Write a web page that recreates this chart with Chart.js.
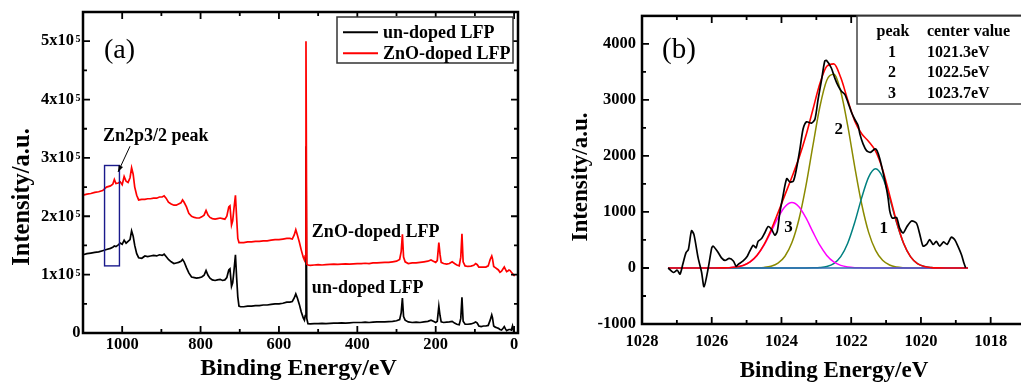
<!DOCTYPE html>
<html><head><meta charset="utf-8">
<script src="https://cdn.jsdelivr.net/npm/chart.js@4.4.1/dist/chart.umd.min.js"></script>
<style>
html,body{margin:0;padding:0;background:#fff;overflow:hidden;width:1021px;height:385px;}
#wa{position:absolute;left:0;top:0;width:530px;height:385px;overflow:hidden;}
#wb{position:absolute;left:530px;top:0;width:491px;height:385px;overflow:hidden;}
canvas{display:block}
</style></head><body>
<div id="wa"><canvas id="ca" width="530" height="385"></canvas></div>
<div id="wb"><canvas id="cb" width="510" height="385"></canvas></div>
<script>
// ---------- DATA: panel (a) survey spectra (intensity in units of 1e5) ----------
const seriesNames = ['un-doped LFP', 'ZnO-doped LFP'];
const surveyE = [
 1100,1090,1080,1070,1060,1050,1040,1030,1024,1020,
 1016,1010,1005,1000,995,990,985,980,976,972,
 968,963,958,950,942,935,928,920,912,905,
 898,893,888,882,875,868,862,856,850,846,
 842,836,830,823,816,810,803,797,791,786,
 781,776,770,763,757,750,744,738,733,728,
 725,721,718,715,711,708,705,702,698,690,
 680,670,660,650,640,630,620,610,600,590,
 580,572,566,561,557,553,548,543,538,535,
 533,531,529,526,520,510,500,490,480,470,
 460,450,440,430,420,410,400,390,380,370,
 360,350,340,330,320,310,300,292,288,285,
 282,278,270,260,250,240,230,220,212,206,
 200,196,192,189,186,180,172,165,158,152,
 146,140,136,133,130,125,118,110,103,98,
 94,90,84,78,72,66,61,57,55,52,
 48,44,40,36,32,28,25,22,19,16,
 13,10,7,4,1,-2];
const undoped = [
 1.34,1.36,1.37,1.38,1.39,1.41,1.43,1.45,1.47,1.49,
 1.48,1.51,1.54,1.52,1.59,1.54,1.57,1.60,1.75,1.66,
 1.50,1.36,1.29,1.28,1.32,1.31,1.32,1.33,1.32,1.34,
 1.33,1.35,1.31,1.26,1.22,1.19,1.20,1.21,1.23,1.26,
 1.22,1.12,1.03,0.96,0.95,0.94,0.95,0.96,0.99,1.07,
 0.99,0.94,0.91,0.90,0.91,0.92,0.90,0.91,0.95,1.08,
 1.10,0.80,0.86,1.05,1.34,0.95,0.62,0.46,0.45,0.45,
 0.46,0.46,0.47,0.47,0.48,0.48,0.49,0.50,0.50,0.51,
 0.53,0.53,0.54,0.60,0.67,0.60,0.49,0.36,0.26,0.22,
 0.30,3.20,0.25,0.16,0.155,0.16,0.16,0.165,0.16,0.165,
 0.17,0.17,0.175,0.17,0.175,0.18,0.18,0.18,0.185,0.18,
 0.185,0.19,0.19,0.19,0.195,0.20,0.21,0.23,0.35,0.60,
 0.28,0.22,0.19,0.18,0.185,0.18,0.19,0.20,0.22,0.20,
 0.18,0.20,0.46,0.30,0.19,0.18,0.185,0.19,0.20,0.17,
 0.15,0.14,0.25,0.61,0.20,0.15,0.15,0.155,0.17,0.19,
 0.17,0.12,0.11,0.12,0.12,0.13,0.22,0.31,0.26,0.12,
 0.10,0.09,0.08,0.06,0.05,0.08,0.11,0.07,0.04,0.05,
 0.06,0.06,0.05,0.12,0.02,0.03];
const znoDoped = [
 2.36,2.38,2.39,2.41,2.42,2.44,2.50,2.52,2.55,2.63,
 2.56,2.57,2.59,2.54,2.68,2.60,2.58,2.66,2.83,2.72,
 2.50,2.36,2.28,2.29,2.29,2.30,2.30,2.31,2.31,2.33,
 2.33,2.35,2.31,2.24,2.21,2.19,2.19,2.21,2.23,2.28,
 2.24,2.16,2.05,2.00,1.98,1.97,1.97,1.99,2.02,2.10,
 2.02,1.98,1.96,1.95,1.96,1.97,1.96,1.95,2.00,2.16,
 2.18,1.85,1.92,2.12,2.36,1.98,1.62,1.55,1.55,1.55,
 1.56,1.56,1.57,1.57,1.58,1.58,1.59,1.60,1.60,1.61,
 1.62,1.62,1.61,1.68,1.77,1.68,1.56,1.42,1.30,1.25,
 1.32,5.00,1.18,1.165,1.16,1.165,1.17,1.165,1.17,1.175,
 1.18,1.175,1.18,1.185,1.18,1.185,1.19,1.19,1.195,1.19,
 1.20,1.20,1.205,1.21,1.21,1.22,1.23,1.26,1.40,1.69,
 1.30,1.22,1.19,1.20,1.20,1.21,1.22,1.23,1.25,1.23,
 1.21,1.24,1.55,1.35,1.21,1.19,1.18,1.19,1.22,1.19,
 1.165,1.15,1.30,1.70,1.22,1.15,1.14,1.145,1.16,1.19,
 1.17,1.13,1.13,1.13,1.13,1.15,1.26,1.32,1.27,1.14,
 1.12,1.10,1.08,1.04,1.06,1.10,1.13,1.09,1.05,1.06,
 1.08,1.07,1.04,1.02,0.99,0.98];
const xTicksA = [1000, 800, 600, 400, 200, 0];
const xMinorA = [900, 700, 500, 300, 100];
const yTicksA = [0, 1, 2, 3, 4, 5];
const yMinorA = [0.5, 1.5, 2.5, 3.5, 4.5];
const yExpA = '5';

// ---------- DATA: panel (b) Zn 2p3/2 region ----------
const rawE = [
 1027.25,1027.10,1026.99,1026.91,1026.83,1026.74,1026.67,1026.58,1026.51,1026.39,
 1026.29,1026.22,1026.10,1026.00,1025.96,1025.84,1025.72,1025.62,1025.50,1025.38,
 1025.30,1025.24,1025.10,1024.98,1024.91,1024.81,1024.73,1024.67,1024.57,1024.48,
 1024.38,1024.28,1024.19,1024.12,1024.05,1023.97,1023.85,1023.76,1023.66,1023.57,
 1023.47,1023.38,1023.28,1023.14,1023.04,1022.95,1022.85,1022.76,1022.71,1022.57,
 1022.47,1022.37,1022.28,1022.18,1022.09,1021.99,1021.90,1021.80,1021.75,1021.66,
 1021.56,1021.45,1021.32,1021.26,1021.18,1021.09,1020.99,1020.94,1020.89,1020.82,
 1020.70,1020.61,1020.51,1020.40,1020.27,1020.13,1020.03,1019.94,1019.84,1019.75,
 1019.65,1019.56,1019.46,1019.35,1019.25,1019.13,1019.03,1018.94,1018.84,1018.77,
 1018.72];
const rawI = [
 0,-80,-40,-110,65,270,330,665,595,180,
 -80,-335,0,360,390,300,180,135,170,125,
 30,65,125,210,300,405,360,475,525,625,
 740,685,585,655,975,1240,1595,1535,1550,1770,
 2125,2480,2610,2585,2655,3010,3360,3690,3705,3570,
 3390,3245,3155,3095,2950,2775,2655,2540,2390,2215,
 2095,2065,2125,2095,1950,1715,1420,1240,1005,890,
 900,710,625,740,840,800,595,390,420,505,
 420,475,390,465,420,550,505,390,240,95,
 5];
const sumE = [1027.25,1025.9,1025.7,1025.5,1025.3,1025.1,1024.9,1024.7,1024.5,1024.3,
 1024.1,1023.9,1023.7,1023.5,1023.3,1023.1,1022.9,1022.7,1022.5,1022.3,
 1022.1,1021.9,1021.7,1021.5,1021.3,1021.1,1020.9,1020.7,1020.5,1020.3,
 1020.1,1019.9,1019.7,1019.5,1019.3,1018.65];
const sumI = [0,0,2,5,17,46,109,227,416,676,
 984,1305,1624,1961,2359,2826,3287,3601,3643,3399,
 3000,2627,2395,2259,2084,1760,1304,829,447,203,
 78,25,7,2,0,0];
const peak2E = [1027.25,1024.9,1024.7,1024.5,1024.3,1024.1,1023.9,1023.7,1023.5,1023.3,
 1023.1,1022.9,1022.7,1022.5,1022.3,1022.1,1021.9,1021.7,1021.5,1021.3,
 1021.1,1020.9,1020.7,1020.5,1020.3,1018.65];
const peak2I = [0,1,3,10,31,86,210,454,866,1461,
 2179,2874,3352,3457,3151,2541,1811,1142,636,314,
 137,53,18,5,1,0];
const peak3E = [1027.25,1025.9,1025.7,1025.5,1025.3,1025.1,1024.9,1024.7,1024.5,1024.3,
 1024.1,1023.9,1023.7,1023.5,1023.3,1023.1,1022.9,1022.7,1022.5,1022.3,
 1022.1,1021.9,1021.7,1021.5,1018.65];
const peak3I = [0,0,2,5,17,46,108,224,406,645,
 898,1095,1170,1095,898,645,406,224,108,46,
 17,5,2,0,0];
const peak1E = [1027.25,1023.3,1023.1,1022.9,1022.7,1022.5,1022.3,1022.1,1021.9,1021.7,
 1021.5,1021.3,1021.1,1020.9,1020.7,1020.5,1020.3,1020.1,1019.9,1019.7,
 1019.5,1019.3,1018.65];
const peak1I = [0,0,2,7,25,78,202,442,811,1251,
 1623,1770,1623,1251,811,442,202,78,25,7,
 2,0,0];
const baseE = [1027.25, 1018.65];
const baseI = [0, 0];
const peakIds = ['1', '2', '3'];
const peakCenters = [1021.3, 1022.5, 1023.7];
const xTicksB = [1028, 1026, 1024, 1022, 1020, 1018];
const xMinorB = [1027, 1025, 1023, 1021, 1019, 1017];
const yTicksB = [-1000, 0, 1000, 2000, 3000, 4000];
const yMinorB = [-500, 500, 1500, 2500, 3500];

// ---------- rendering ----------
const FONT = "'Liberation Serif','Times New Roman',serif";
Chart.defaults.font.family = FONT;
Chart.defaults.color = '#000';
const pts = (xs, ys) => xs.map((v, i) => ({x: v, y: ys[i]}));

function drawFrame(ctx, a, x, y, xt, xm, yt, ym) {
  ctx.save();
  ctx.strokeStyle = '#000';
  ctx.lineWidth = 2.5;
  ctx.strokeRect(a.left, a.top, a.right - a.left, a.bottom - a.top);
  ctx.lineWidth = 1.8;
  ctx.beginPath();
  const xs = (vals, L) => vals.forEach(v => {
    const p = x.getPixelForValue(v);
    if (p <= a.left + 1 || p >= a.right - 1) return;
    ctx.moveTo(p, a.bottom); ctx.lineTo(p, a.bottom - L);
    ctx.moveTo(p, a.top); ctx.lineTo(p, a.top + L);
  });
  const ys = (vals, L) => vals.forEach(v => {
    const p = y.getPixelForValue(v);
    if (p <= a.top + 1 || p >= a.bottom - 1) return;
    ctx.moveTo(a.left, p); ctx.lineTo(a.left + L, p);
    ctx.moveTo(a.right, p); ctx.lineTo(a.right - L, p);
  });
  xs(xt, 7); xs(xm, 4); ys(yt, 7); ys(ym, 4);
  ctx.stroke();
  ctx.restore();
}
function rotTitle(ctx, text, bx, cy, size) {
  ctx.save();
  ctx.font = `bold ${size}px ${FONT}`;
  ctx.fillStyle = '#000';
  ctx.translate(bx, cy); ctx.rotate(-Math.PI / 2);
  ctx.textAlign = 'center'; ctx.textBaseline = 'alphabetic';
  ctx.fillText(text, 0, 0);
  ctx.restore();
}
function txt(ctx, s, px, py, font, align, base) {
  ctx.font = font; ctx.textAlign = align || 'left'; ctx.textBaseline = base || 'alphabetic';
  ctx.fillText(s, px, py);
}

const decorA = {
  id: 'decorA',
  afterDraw(chart) {
    const {ctx, chartArea: a, scales: {x, y}} = chart;
    drawFrame(ctx, a, x, y, xTicksA, xMinorA, yTicksA, yMinorA);
    ctx.save();
    ctx.fillStyle = '#000';
    yTicksA.forEach(v => {
      const py = y.getPixelForValue(v);
      if (v === 0) { txt(ctx, '0', a.left - 2.5, py, `bold 16.5px ${FONT}`, 'right', 'middle'); return; }
      txt(ctx, v + 'x10', a.left - 9, py, `bold 16.5px ${FONT}`, 'right', 'middle');
      txt(ctx, yExpA, a.left - 7.5, py - 6.5, `bold 10px ${FONT}`, 'left', 'top');
    });
    // highlight box and arrow
    ctx.strokeStyle = '#1a1a8c'; ctx.lineWidth = 1.4;
    const bx1 = x.getPixelForValue(1045), bx2 = x.getPixelForValue(1007);
    const by1 = y.getPixelForValue(2.87), by2 = y.getPixelForValue(1.15);
    ctx.strokeRect(bx1, by1, bx2 - bx1, by2 - by1);
    const ax1 = x.getPixelForValue(980), ay1 = y.getPixelForValue(3.20);
    const ax2 = x.getPixelForValue(1010.5), ay2 = y.getPixelForValue(2.76);
    ctx.strokeStyle = '#000'; ctx.lineWidth = 1;
    ctx.beginPath(); ctx.moveTo(ax1, ay1); ctx.lineTo(ax2, ay2); ctx.stroke();
    const ang = Math.atan2(ay2 - ay1, ax2 - ax1);
    ctx.beginPath();
    ctx.moveTo(ax2, ay2);
    ctx.lineTo(ax2 - 7 * Math.cos(ang - 0.35), ay2 - 7 * Math.sin(ang - 0.35));
    ctx.lineTo(ax2 - 7 * Math.cos(ang + 0.35), ay2 - 7 * Math.sin(ang + 0.35));
    ctx.closePath(); ctx.fill();
    txt(ctx, 'Zn2p3/2 peak', x.getPixelForValue(1049), y.getPixelForValue(3.29), `bold 18px ${FONT}`);
    txt(ctx, seriesNames[1], x.getPixelForValue(516), y.getPixelForValue(1.645), `bold 18px ${FONT}`);
    txt(ctx, seriesNames[0], x.getPixelForValue(516), y.getPixelForValue(0.685), `bold 18px ${FONT}`);
    txt(ctx, '(a)', a.left + 21, 58, `28px ${FONT}`);
    // legend
    ctx.fillStyle = '#fff';
    ctx.fillRect(337, 17, 176, 46);
    ctx.strokeStyle = '#333'; ctx.lineWidth = 1.5;
    ctx.strokeRect(337, 17, 176, 46);
    chart.data.datasets.forEach((ds, i) => {
      const ly = 32.3 + i * 21;
      ctx.strokeStyle = ds.borderColor; ctx.lineWidth = 2;
      ctx.beginPath(); ctx.moveTo(343, ly); ctx.lineTo(378, ly); ctx.stroke();
      ctx.fillStyle = '#000';
      txt(ctx, ds.label, 383, ly + 5.8, `bold 18px ${FONT}`);
    });
    // axis titles
    rotTitle(ctx, 'Intensity/a.u.', 28.5, 197, 24.5);
    txt(ctx, 'Binding Energy/eV', (a.left + a.right) / 2 - 2, 375, `bold 24px ${FONT}`, 'center');
    ctx.restore();
  }
};

const decorB = {
  id: 'decorB',
  afterDraw(chart) {
    const {ctx, chartArea: a, scales: {x, y}} = chart;
    drawFrame(ctx, a, x, y, xTicksB, xMinorB, yTicksB, yMinorB);
    ctx.save();
    ctx.fillStyle = '#000';
    const f17 = `bold 17px ${FONT}`;
    txt(ctx, peakIds[0], x.getPixelForValue(1021.07), y.getPixelForValue(707), f17, 'center', 'middle');
    txt(ctx, peakIds[1], x.getPixelForValue(1022.36), y.getPixelForValue(2465), f17, 'center', 'middle');
    txt(ctx, peakIds[2], x.getPixelForValue(1023.8), y.getPixelForValue(725), f17, 'center', 'middle');
    txt(ctx, '(b)', a.left + 20, 58, `29px ${FONT}`);
    // table
    ctx.fillStyle = '#fff';
    ctx.fillRect(327, 16, 200, 88);
    ctx.strokeStyle = '#444'; ctx.lineWidth = 1.5;
    ctx.strokeRect(327, 16, 200, 88);
    ctx.fillStyle = '#000';
    const f16 = `bold 16px ${FONT}`;
    txt(ctx, 'peak', 363, 36, f16, 'center');
    txt(ctx, 'center value', 397, 36, f16, 'left');
    peakIds.forEach((id, i) => {
      const by = 56.5 + i * 20.8;
      txt(ctx, id, 362, by, f16, 'center');
      txt(ctx, peakCenters[i].toFixed(1) + 'eV', 397, by, f16, 'left');
    });
    rotTitle(ctx, 'Intensity/a.u.', 57, 177, 23);
    txt(ctx, 'Binding Energy/eV', 304, 377, `bold 23px ${FONT}`, 'center');
    ctx.restore();
  }
};

const tickFont = {size: 16.5, weight: 'bold'};
const lineDs = (label, xs, ys, color, w, order, tension) => ({
  label, data: pts(xs, ys), borderColor: color, backgroundColor: color,
  borderWidth: w, pointRadius: 0, fill: false, order, tension: tension === 'mono' ? 0 : (tension || 0),
  cubicInterpolationMode: tension === 'mono' ? 'monotone' : 'default'
});

new Chart(document.getElementById('ca'), {
  type: 'line',
  data: {datasets: [
    lineDs(seriesNames[0], surveyE, undoped, '#000000', 1.7, 1),
    lineDs(seriesNames[1], surveyE, znoDoped, '#ff0000', 1.7, 0)
  ]},
  options: {
    responsive: false, animation: false, devicePixelRatio: 1,
    layout: {padding: {left: 0, top: 12, right: 12, bottom: 0}},
    plugins: {legend: {display: false}, tooltip: {enabled: false}},
    scales: {
      x: {type: 'linear', reverse: true, min: -10, max: 1100,
        grid: {display: false, drawTicks: false}, border: {display: false},
        ticks: {font: tickFont, padding: 2, maxRotation: 0, autoSkip: false, callback: v => String(v)},
        afterBuildTicks: s => { s.ticks = xTicksA.map(v => ({value: v})); },
        afterFit: s => { s.height = 52; }},
      y: {type: 'linear', min: 0, max: 5.5,
        grid: {display: false, drawTicks: false}, border: {display: false},
        ticks: {display: false},
        afterBuildTicks: s => { s.ticks = yTicksA.map(v => ({value: v})); },
        afterFit: s => { s.width = 83; }}
    }
  },
  plugins: [decorA]
});

new Chart(document.getElementById('cb'), {
  type: 'line',
  data: {datasets: [
    lineDs('data', rawE, rawI, '#000000', 1.7, 0, 0.25),
    lineDs('sum', sumE, sumI, '#ff0000', 1.6, 1, 'mono'),
    lineDs('baseline', baseE, baseI, '#2f6db3', 1.6, 2),
    lineDs('peak3', peak3E, peak3I, '#ff00ff', 1.5, 3, 'mono'),
    lineDs('peak1', peak1E, peak1I, '#008080', 1.5, 4, 'mono'),
    lineDs('peak2', peak2E, peak2I, '#8a8a00', 1.5, 5, 'mono')
  ]},
  options: {
    responsive: false, animation: false, devicePixelRatio: 1,
    layout: {padding: {left: 0, top: 12, right: 4, bottom: 0}},
    plugins: {legend: {display: false}, tooltip: {enabled: false}},
    scales: {
      x: {type: 'linear', reverse: true, min: 1016.7, max: 1028,
        grid: {display: false, drawTicks: false}, border: {display: false},
        ticks: {font: tickFont, padding: 8, maxRotation: 0, autoSkip: false, callback: v => String(v)},
        afterBuildTicks: s => { s.ticks = xTicksB.map(v => ({value: v})); },
        afterFit: s => { s.height = 61; }},
      y: {type: 'linear', min: -1000, max: 4500,
        grid: {display: false, drawTicks: false}, border: {display: false},
        ticks: {font: tickFont, padding: 6, autoSkip: false, callback: v => String(v)},
        afterBuildTicks: s => { s.ticks = yTicksB.map(v => ({value: v})); },
        afterFit: s => { s.width = 112; }}
    }
  },
  plugins: [decorB]
});
</script>
</body></html>
